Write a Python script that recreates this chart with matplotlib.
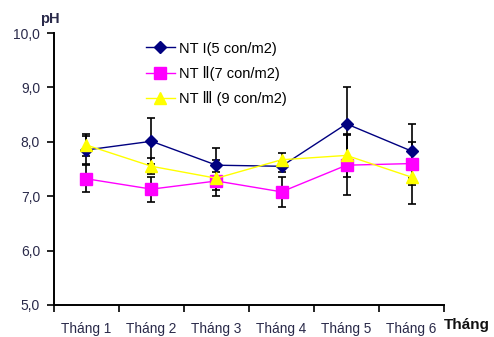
import numpy as np
import matplotlib.pyplot as plt
from matplotlib.ticker import FixedLocator, NullFormatter

plt.rcParams['font.family'] = ['Liberation Sans', 'DejaVu Sans']

months = ["Tháng 1", "Tháng 2", "Tháng 3", "Tháng 4", "Tháng 5", "Tháng 6"]

# mean pH per treatment and its spread
ph_nt1 = [7.85, 8.01, 7.57, 7.55, 8.33, 7.83]
err_nt1 = [0.25, 0.42, 0.32, 0.10, 0.67, 0.50]
ph_nt2 = [7.32, 7.13, 7.28, 7.08, 7.57, 7.60]
err_nt2 = [0.25, 0.23, 0.17, 0.28, 0.55, 0.40]
ph_nt3 = [7.94, 7.55, 7.33, 7.67, 7.75, 7.35]
err_nt3 = [0.20, 0.15, 0.33, 0.13, 0.40, 0.50]

labels = ["NT I(5 con/m2)", "NT Ⅱ(7 con/m2)", "NT Ⅲ (9 con/m2)"]
colors = ["#000080", "#FF00FF", "#FFFF00"]
markers = ["D", "s", "^"]
sizes = [6, 8, 8]

fig = plt.figure(figsize=(4.94, 3.37), dpi=100)
ax = fig.add_axes([0.1093, 0.095, 0.7895, 0.807])

x = np.arange(len(months)) + 0.5
series = [(ph_nt1, err_nt1), (ph_nt2, err_nt2), (ph_nt3, err_nt3)]
for vals, errs in series:
    ax.errorbar(x, vals, yerr=errs, fmt="none", ecolor="black",
                elinewidth=1.2, capsize=3, capthick=1.2, zorder=2)
for (vals, errs), lab, c, m, s in zip(series, labels, colors, markers, sizes):
    ax.plot(x, vals, color=c, marker=m, markersize=s, linewidth=1.0,
            label=lab, zorder=3)

ax.set_xlim(0, 6)
ax.set_ylim(5, 10)
ax.set_yticks(np.arange(5, 10.01, 1))
ax.set_yticklabels([f"{v:.1f}".replace(".", ",") for v in np.arange(5, 10.01, 1)])

ax.xaxis.set_major_locator(FixedLocator(np.arange(0, 7)))
ax.xaxis.set_major_formatter(NullFormatter())
ax.xaxis.set_minor_locator(FixedLocator(x))
ax.set_xticklabels(months, minor=True)
ax.tick_params(axis="x", which="major", length=5, width=1.2, direction="out")
ax.tick_params(axis="x", which="minor", length=0, pad=12, labelsize=9.8,
               labelcolor="#2a2a4a")
ax.tick_params(axis="y", length=5, width=1.2, direction="out", pad=5,
               labelsize=10, labelcolor="#2a2a4a")

for side in ["top", "right"]:
    ax.spines[side].set_visible(False)
for side in ["left", "bottom"]:
    ax.spines[side].set_linewidth(1.4)

fig.text(0.1, 0.945, "pH", fontsize=10.5, fontweight="bold",
         color="#2a2a4a", ha="center", va="center")
fig.text(0.992, 0.035, "Tháng", fontsize=11, fontweight="bold",
         color="#111111", ha="right", va="center")

leg = ax.legend(loc="upper left", bbox_to_anchor=(0.22, 0.99), frameon=False,
                fontsize=10.5, handlelength=2.0, handletextpad=0.3,
                labelspacing=0.7, borderaxespad=0)

fig.savefig("out.png", dpi=100)
